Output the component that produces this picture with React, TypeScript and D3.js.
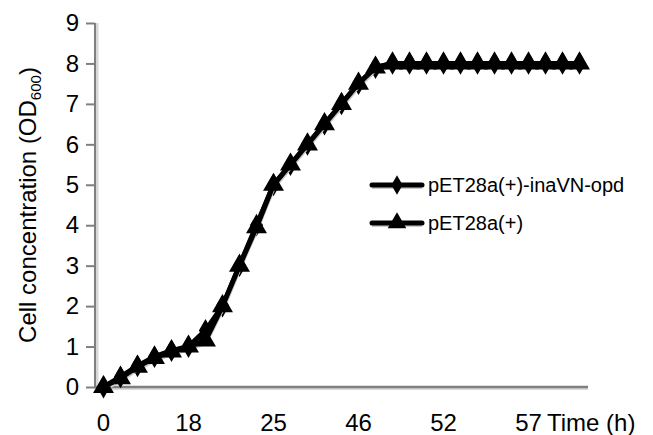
import { useEffect, useRef } from 'react';
import * as d3 from 'd3';

// sampling points along the time axis (29 readings), labels shown every 5th
const pointIndex = d3.range(29);
const tickIndex = [0, 5, 10, 15, 20, 25];
const tickLabels = ['0', '18', '25', '46', '52', '57'];

const inaVNopd = [0, 0.25, 0.52, 0.75, 0.9, 1.0, 1.4, 2.0, 3.0, 4.0, 5.0, 5.5, 6.0, 6.5, 7.0, 7.5, 7.9,
  8, 8, 8, 8, 8, 8, 8, 8, 8, 8, 8, 8];
const pET28a = [0, 0.22, 0.5, 0.72, 0.88, 1.0, 1.15, 2.0, 3.0, 3.95, 5.0, 5.5, 6.0, 6.5, 7.0, 7.5, 7.9,
  8, 8, 8, 8, 8, 8, 8, 8, 8, 8, 8, 8];

const yTicks = [0, 1, 2, 3, 4, 5, 6, 7, 8, 9];

const FONT = '"Liberation Sans", Arial, Helvetica, sans-serif';

export default function App() {
  const ref = useRef<SVGSVGElement | null>(null);

  useEffect(() => {
    if (!ref.current) return;
    const svg = d3.select(ref.current);
    svg.selectAll('*').remove();

    const x = d3.scaleBand<number>().domain(pointIndex).range([95, 588]);
    const cx = (i: number) => (x(i) as number) + x.bandwidth() / 2;
    const y = d3.scaleLinear().domain([0, 9]).range([387, 23]);

    // axes (grey with soft shadow)
    svg.append('line').attr('x1', 97).attr('x2', 97).attr('y1', y(9)).attr('y2', y(0) + 2)
      .attr('stroke', '#d8d8d8').attr('stroke-width', 3);
    svg.append('line').attr('x1', 95).attr('x2', 95).attr('y1', y(9)).attr('y2', y(0))
      .attr('stroke', '#7f7f7f').attr('stroke-width', 2);

    const yAxis = svg.append('g')
      .attr('transform', 'translate(95,0)')
      .call(d3.axisLeft(y).tickValues(yTicks).tickSize(9).tickPadding(7).tickFormat(d3.format('d')));
    yAxis.select('.domain').remove();
    yAxis.selectAll('line').attr('stroke', '#7f7f7f').attr('stroke-width', 2);
    yAxis.selectAll('text').attr('font-family', FONT).attr('font-size', 24).attr('fill', '#000');

    svg.append('line').attr('x1', 95).attr('x2', 588).attr('y1', y(0) + 2).attr('y2', y(0) + 2)
      .attr('stroke', '#d8d8d8').attr('stroke-width', 2);
    svg.append('line').attr('x1', 94).attr('x2', 588).attr('y1', y(0)).attr('y2', y(0))
      .attr('stroke', '#7f7f7f').attr('stroke-width', 2.5);

    const xAxis = svg.append('g')
      .attr('transform', `translate(0,${y(0)})`)
      .call(d3.axisBottom(x).tickValues(tickIndex).tickSize(0).tickPadding(27)
        .tickFormat((d) => tickLabels[tickIndex.indexOf(d as number)]));
    xAxis.select('.domain').remove();
    xAxis.selectAll('text').attr('font-family', FONT).attr('font-size', 24).attr('fill', '#000');

    svg.append('text')
      .attr('x', 547).attr('y', 431)
      .attr('font-family', FONT).attr('font-size', 24)
      .text('Time (h)');

    // y title
    const yt = svg.append('text')
      .attr('transform', 'translate(36,205) rotate(-90)')
      .attr('text-anchor', 'middle')
      .attr('font-family', FONT).attr('font-size', 24);
    yt.append('tspan').text('Cell concentration (OD');
    yt.append('tspan').attr('font-size', 15).attr('dy', 5).text('600');
    yt.append('tspan').attr('dy', -5).text(')');

    const line = d3.line<number>().x((_, i) => cx(i)).y((d) => y(d));

    const diamond = d3.symbol().type(d3.symbolDiamond).size(150);
    const triangle = d3.symbol().type(d3.symbolTriangle).size(190);

    const series = [
      { values: inaVNopd, symbol: diamond, name: 'pET28a(+)-inaVN-opd' },
      { values: pET28a, symbol: triangle, name: 'pET28a(+)' },
    ];

    series.forEach((s) => {
      svg.append('path').datum(s.values)
        .attr('d', line)
        .attr('transform', 'translate(0,2)')
        .attr('fill', 'none').attr('stroke', '#c8c8c8').attr('stroke-width', 5);
      svg.append('path').datum(s.values)
        .attr('d', line)
        .attr('fill', 'none').attr('stroke', '#000').attr('stroke-width', 5)
        .attr('stroke-linejoin', 'round');
      svg.append('g').selectAll('path')
        .data(s.values)
        .enter().append('path')
        .attr('d', s.symbol)
        .attr('transform', (d, i) => `translate(${cx(i)},${y(d)})`)
        .attr('fill', '#000');
    });

    // legend
    const legendY = [185, 223];
    const legendSymbols = [
      d3.symbol().type(d3.symbolDiamond).size(110),
      d3.symbol().type(d3.symbolTriangle).size(150),
    ];
    series.forEach((s, i) => {
      const g = svg.append('g').attr('transform', `translate(372,${legendY[i]})`);
      g.append('line').attr('x1', 0).attr('x2', 50).attr('y1', 1.5).attr('y2', 1.5)
        .attr('stroke', '#c8c8c8').attr('stroke-width', 5);
      g.append('line').attr('x1', 0).attr('x2', 50)
        .attr('stroke', '#000').attr('stroke-width', 5).attr('stroke-linecap', 'round');
      g.append('path').attr('d', legendSymbols[i]).attr('transform', 'translate(25,0)').attr('fill', '#000');
      g.append('text').attr('x', 56).attr('y', 7)
        .attr('font-family', FONT).attr('font-size', 20)
        .text(s.name);
    });
  }, []);

  return (
    <div style={{ position: 'absolute', left: 0, top: 0, background: '#fff' }}>
      <svg ref={ref} width={653} height={435} style={{ display: 'block' }} />
    </div>
  );
}
